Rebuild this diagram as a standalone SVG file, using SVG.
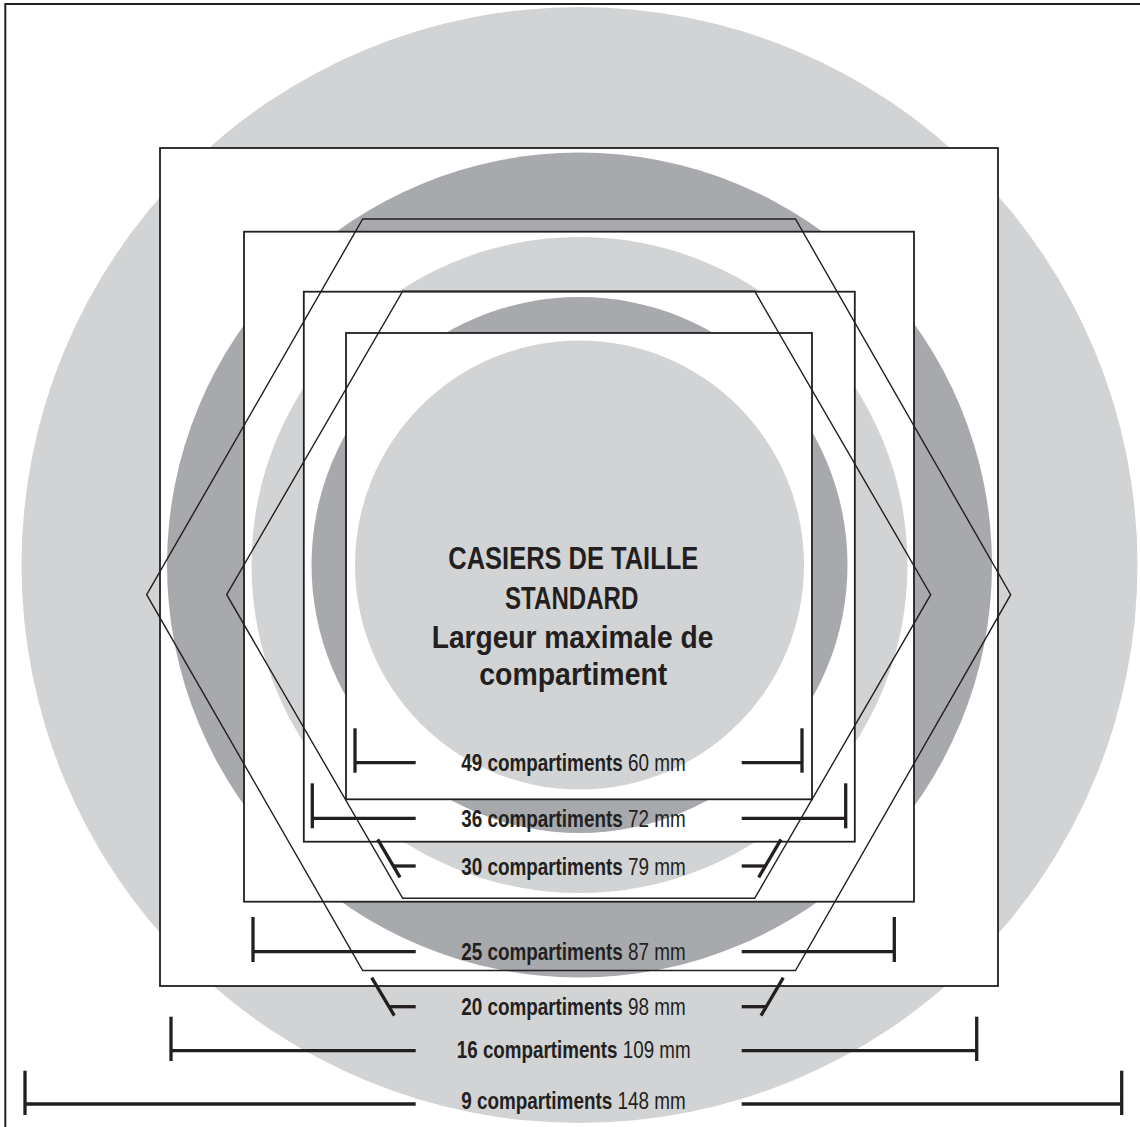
<svg xmlns="http://www.w3.org/2000/svg" width="1140" height="1127" viewBox="0 0 1140 1127">
<style>
.lt{fill:#d1d3d4}
.dk{fill:#a7a9ac}
.sq{fill:#fff;stroke:#231f20;stroke-width:1.8}
.hx{fill:none;stroke:#231f20;stroke-width:1.4;stroke-linejoin:miter}
.dim line{stroke:#231f20;stroke-width:3.3;stroke-linecap:butt}
.lbl{font-family:"Liberation Sans Narrow","Liberation Sans",Arial,sans-serif;font-size:24px;fill:#231f20;text-anchor:middle}
.lbl .b{font-weight:bold}
.ttl{font-family:"Liberation Sans Narrow","Liberation Sans",Arial,sans-serif;font-size:32px;font-weight:bold;fill:#231f20;text-anchor:middle}
</style>
<rect x="0" y="0" width="1140" height="1127" fill="#fff"/>
<g id="rings">
<circle id="circle-1" class="lt" cx="579.5" cy="565" r="558"/>
<rect id="sq-16" class="sq" x="160" y="148" width="838" height="838"/>
<circle id="circle-2" class="dk" cx="579.5" cy="565" r="412.5"/>
<rect id="sq-25" class="sq" x="244" y="231.7" width="670" height="670"/>
<circle id="circle-3" class="lt" cx="579.5" cy="565" r="328"/>
<rect id="sq-36" class="sq" x="303.8" y="291.7" width="551" height="550"/>
<circle id="circle-4" class="dk" cx="579.5" cy="565" r="268"/>
<rect id="sq-49" class="sq" x="346" y="333" width="466" height="466.3"/>
<circle id="circle-5" class="lt" cx="579.5" cy="565" r="224.5"/>
</g>
<g id="hexagons">
<polygon id="hex-20" class="hx" points="146.7,594.7 362.7,219 795.5,219 1010.7,594.7 795.5,970.5 362.7,970.5"/>
<polygon id="hex-30" class="hx" points="226.7,594.7 402.7,291.2 754.7,291.2 930.7,594.7 754.7,898.3 402.7,898.3"/>
</g>
<g id="connectors" class="dim">
<g id="dim-49"><line x1="355" y1="728.3" x2="355" y2="772.7"/><line x1="355" y1="762.7" x2="415.7" y2="762.7"/><line x1="741.7" y1="762.7" x2="802" y2="762.7"/><line x1="802" y1="728.3" x2="802" y2="772.7"/></g>
<g id="dim-36"><line x1="312.3" y1="783.3" x2="312.3" y2="828.3"/><line x1="312.3" y1="818.3" x2="415.7" y2="818.3"/><line x1="741.7" y1="818.3" x2="845.7" y2="818.3"/><line x1="845.7" y1="783.3" x2="845.7" y2="828.3"/></g>
<g id="dim-30"><line x1="377.7" y1="839.3" x2="400" y2="877.3"/><line x1="393.4" y1="866" x2="415.7" y2="866"/><line x1="741.7" y1="866" x2="765.3" y2="866"/><line x1="781" y1="839.3" x2="758.7" y2="877.3"/></g>
<g id="dim-25"><line x1="253" y1="917" x2="253" y2="962"/><line x1="253" y1="951.7" x2="415.7" y2="951.7"/><line x1="741.7" y1="951.7" x2="894.3" y2="951.7"/><line x1="894.3" y1="917" x2="894.3" y2="962"/></g>
<g id="dim-20"><line x1="371.7" y1="977.7" x2="394.3" y2="1015.7"/><line x1="389" y1="1006.7" x2="415.7" y2="1006.7"/><line x1="741.7" y1="1006.7" x2="766.3" y2="1006.7"/><line x1="783.3" y1="977.7" x2="761" y2="1015.7"/></g>
<g id="dim-16"><line x1="171" y1="1016.7" x2="171" y2="1061"/><line x1="171" y1="1050.7" x2="415.7" y2="1050.7"/><line x1="741.7" y1="1050.7" x2="976.7" y2="1050.7"/><line x1="976.7" y1="1016.7" x2="976.7" y2="1061"/></g>
<g id="dim-9"><line x1="25" y1="1070.7" x2="25" y2="1115"/><line x1="25" y1="1104" x2="415.7" y2="1104"/><line x1="741.7" y1="1104" x2="1121.7" y2="1104"/><line x1="1121.7" y1="1070.7" x2="1121.7" y2="1115"/></g>
</g>
<g id="labels">
<text class="lbl" transform="translate(573.4 770.7) scale(0.787 1)"><tspan class="b">49 compartiments</tspan> 60 mm</text>
<text class="lbl" transform="translate(573.4 826.7) scale(0.787 1)"><tspan class="b">36 compartiments</tspan> 72 mm</text>
<text class="lbl" transform="translate(573.4 875) scale(0.787 1)"><tspan class="b">30 compartiments</tspan> 79 mm</text>
<text class="lbl" transform="translate(573.4 960) scale(0.787 1)"><tspan class="b">25 compartiments</tspan> 87 mm</text>
<text class="lbl" transform="translate(573.4 1015) scale(0.787 1)"><tspan class="b">20 compartiments</tspan> 98 mm</text>
<text class="lbl" transform="translate(573.7 1058.3) scale(0.783 1)"><tspan class="b">16 compartiments</tspan> 109 mm</text>
<text class="lbl" transform="translate(573.4 1109.4) scale(0.787 1)"><tspan class="b">9 compartiments</tspan> 148 mm</text>
</g>
<g id="title">
<text class="ttl"><tspan x="573.3" y="569.3" textLength="250" lengthAdjust="spacingAndGlyphs">CASIERS DE TAILLE</tspan><tspan x="571.7" y="609.3" textLength="133.3" lengthAdjust="spacingAndGlyphs">STANDARD</tspan><tspan x="572.5" y="648.3" textLength="281.6" lengthAdjust="spacingAndGlyphs">Largeur maximale de</tspan><tspan x="573.3" y="684.5" textLength="188" lengthAdjust="spacingAndGlyphs">compartiment</tspan></text>
</g>
<rect id="frame" x="5.3" y="4" width="1150" height="1140" fill="none" stroke="#231f20" stroke-width="2"/>
</svg>
